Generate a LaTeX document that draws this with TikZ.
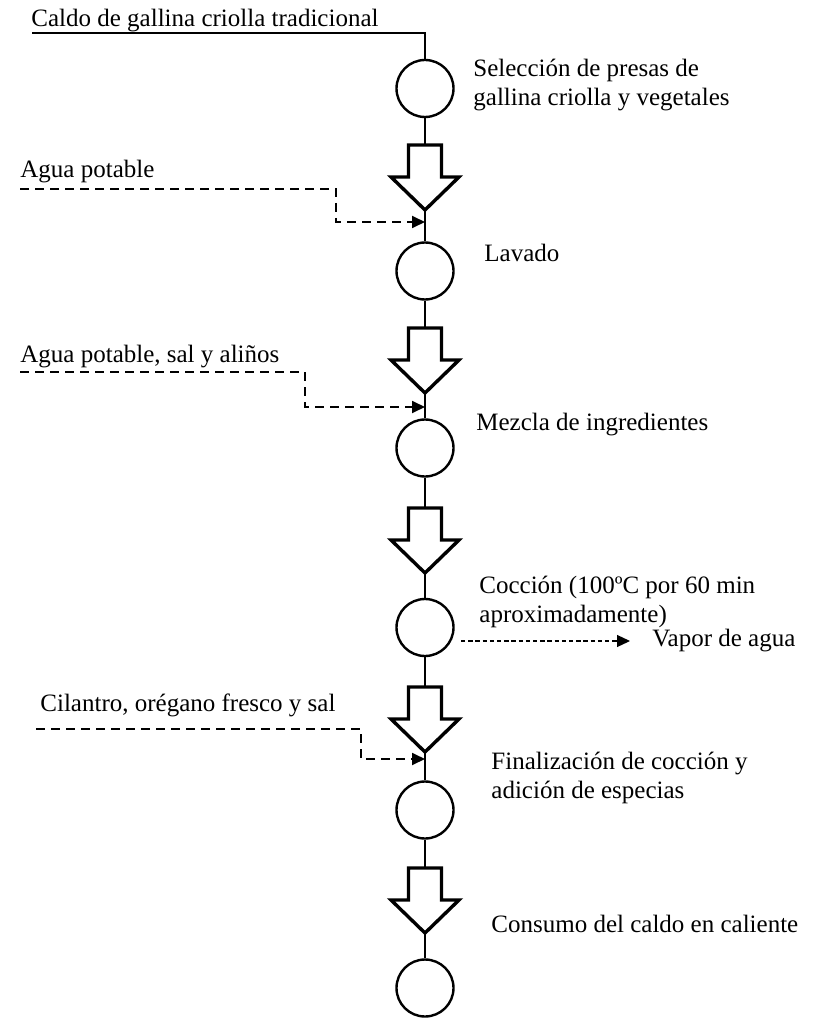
\documentclass[tikz,border=0pt]{standalone}
\usepackage{fontspec}
\setmainfont{Liberation Serif}
\usetikzlibrary{arrows.meta}

\begin{document}
\begin{tikzpicture}[x=0.5pt,y=-0.5pt,
        font=\fontsize{12.5}{14.5}\selectfont,
        etapa/.style={circle,draw,line width=1.2pt,minimum size=28.5pt,inner sep=0pt},
        texto/.style={anchor=base west,inner sep=0pt,align=left},
        linea/.style={line width=0.75pt},
        entrada/.style={line width=0.9pt,dash pattern=on 4.5pt off 3pt,-{Triangle[length=6.5pt,width=6pt]}},
        salida/.style={line width=0.6pt,dash pattern=on 2.2pt off 1.4pt,-{Triangle[length=6.5pt,width=6pt]}},
        flecha/.pic={
            \draw[line width=1.7pt] (-16.5,0)--(16.5,0)--(16.5,32)--(34,32)--(0,65)--(-34,32)--(-16.5,32)--cycle;
            \coordinate (-top) at (0,0);
            \coordinate (-tip) at (0,65);
        }]
    \useasboundingbox (0,0) rectangle (835,1021);

    \node[etapa] (c1) at (425,88.5) {};
    \node[etapa] (c2) at (425,271) {};
    \node[etapa] (c3) at (425,448) {};
    \node[etapa] (c4) at (425,627.5) {};
    \node[etapa] (c5) at (425,810) {};
    \node[etapa] (c6) at (425,988) {};

    \pic (f1) at (425,145) {flecha};
    \pic (f2) at (425,328) {flecha};
    \pic (f3) at (425,508) {flecha};
    \pic (f4) at (425,687) {flecha};
    \pic (f5) at (425,868) {flecha};

    \draw[linea] (c1)--(f1-top);
    \draw[linea] (f1-tip)--(c2);
    \draw[linea] (c2)--(f2-top);
    \draw[linea] (f2-tip)--(c3);
    \draw[linea] (c3)--(f3-top);
    \draw[linea] (f3-tip)--(c4);
    \draw[linea] (c4)--(f4-top);
    \draw[linea] (f4-tip)--(c5);
    \draw[linea] (c5)--(f5-top);
    \draw[linea] (f5-tip)--(c6);

    \node[texto] (l1) at (473,106) {Selección de presas de\\gallina criolla y vegetales};
    \node[texto] (l2) at (484,262) {Lavado};
    \node[texto] (l3) at (476,430) {Mezcla de ingredientes};
    \node[texto] (l4) at (479,622) {Cocción (100ºC por 60 min\\aproximadamente)};
    \node[texto] (l5) at (491,798) {Finalización de cocción y\\adición de especias};
    \node[texto] (l6) at (491,932) {Consumo del caldo en caliente};

    \node[texto] (mp) at (31,27) {Caldo de gallina criolla tradicional};
    \coordinate (t0) at (32,33);
    \draw[line width=0.6pt] (t0) -| (c1);

    \node[texto] (in1) at (20,178) {Agua potable};
    \coordinate (a1) at (20,189);
    \coordinate (e1) at (425,222);
    \draw[entrada] (a1)--++(316,0) |- (e1);

    \node[texto] (in2) at (20,362) {Agua potable, sal y aliños};
    \coordinate (a2) at (20,372);
    \coordinate (e2) at (425,407);
    \draw[entrada] (a2)--++(285,0) |- (e2);

    \node[texto] (in3) at (40,711) {Cilantro, orégano fresco y sal};
    \coordinate (a3) at (36,729);
    \coordinate (e3) at (425,759);
    \draw[entrada] (a3)--++(325,0) |- (e3);

    \node[anchor=west,inner xsep=11pt] (vapor) at (630,641) {Vapor de agua};
    \coordinate (v0) at (461,641);
    \draw[salida] (v0)--(vapor.west);
\end{tikzpicture}
\end{document}
